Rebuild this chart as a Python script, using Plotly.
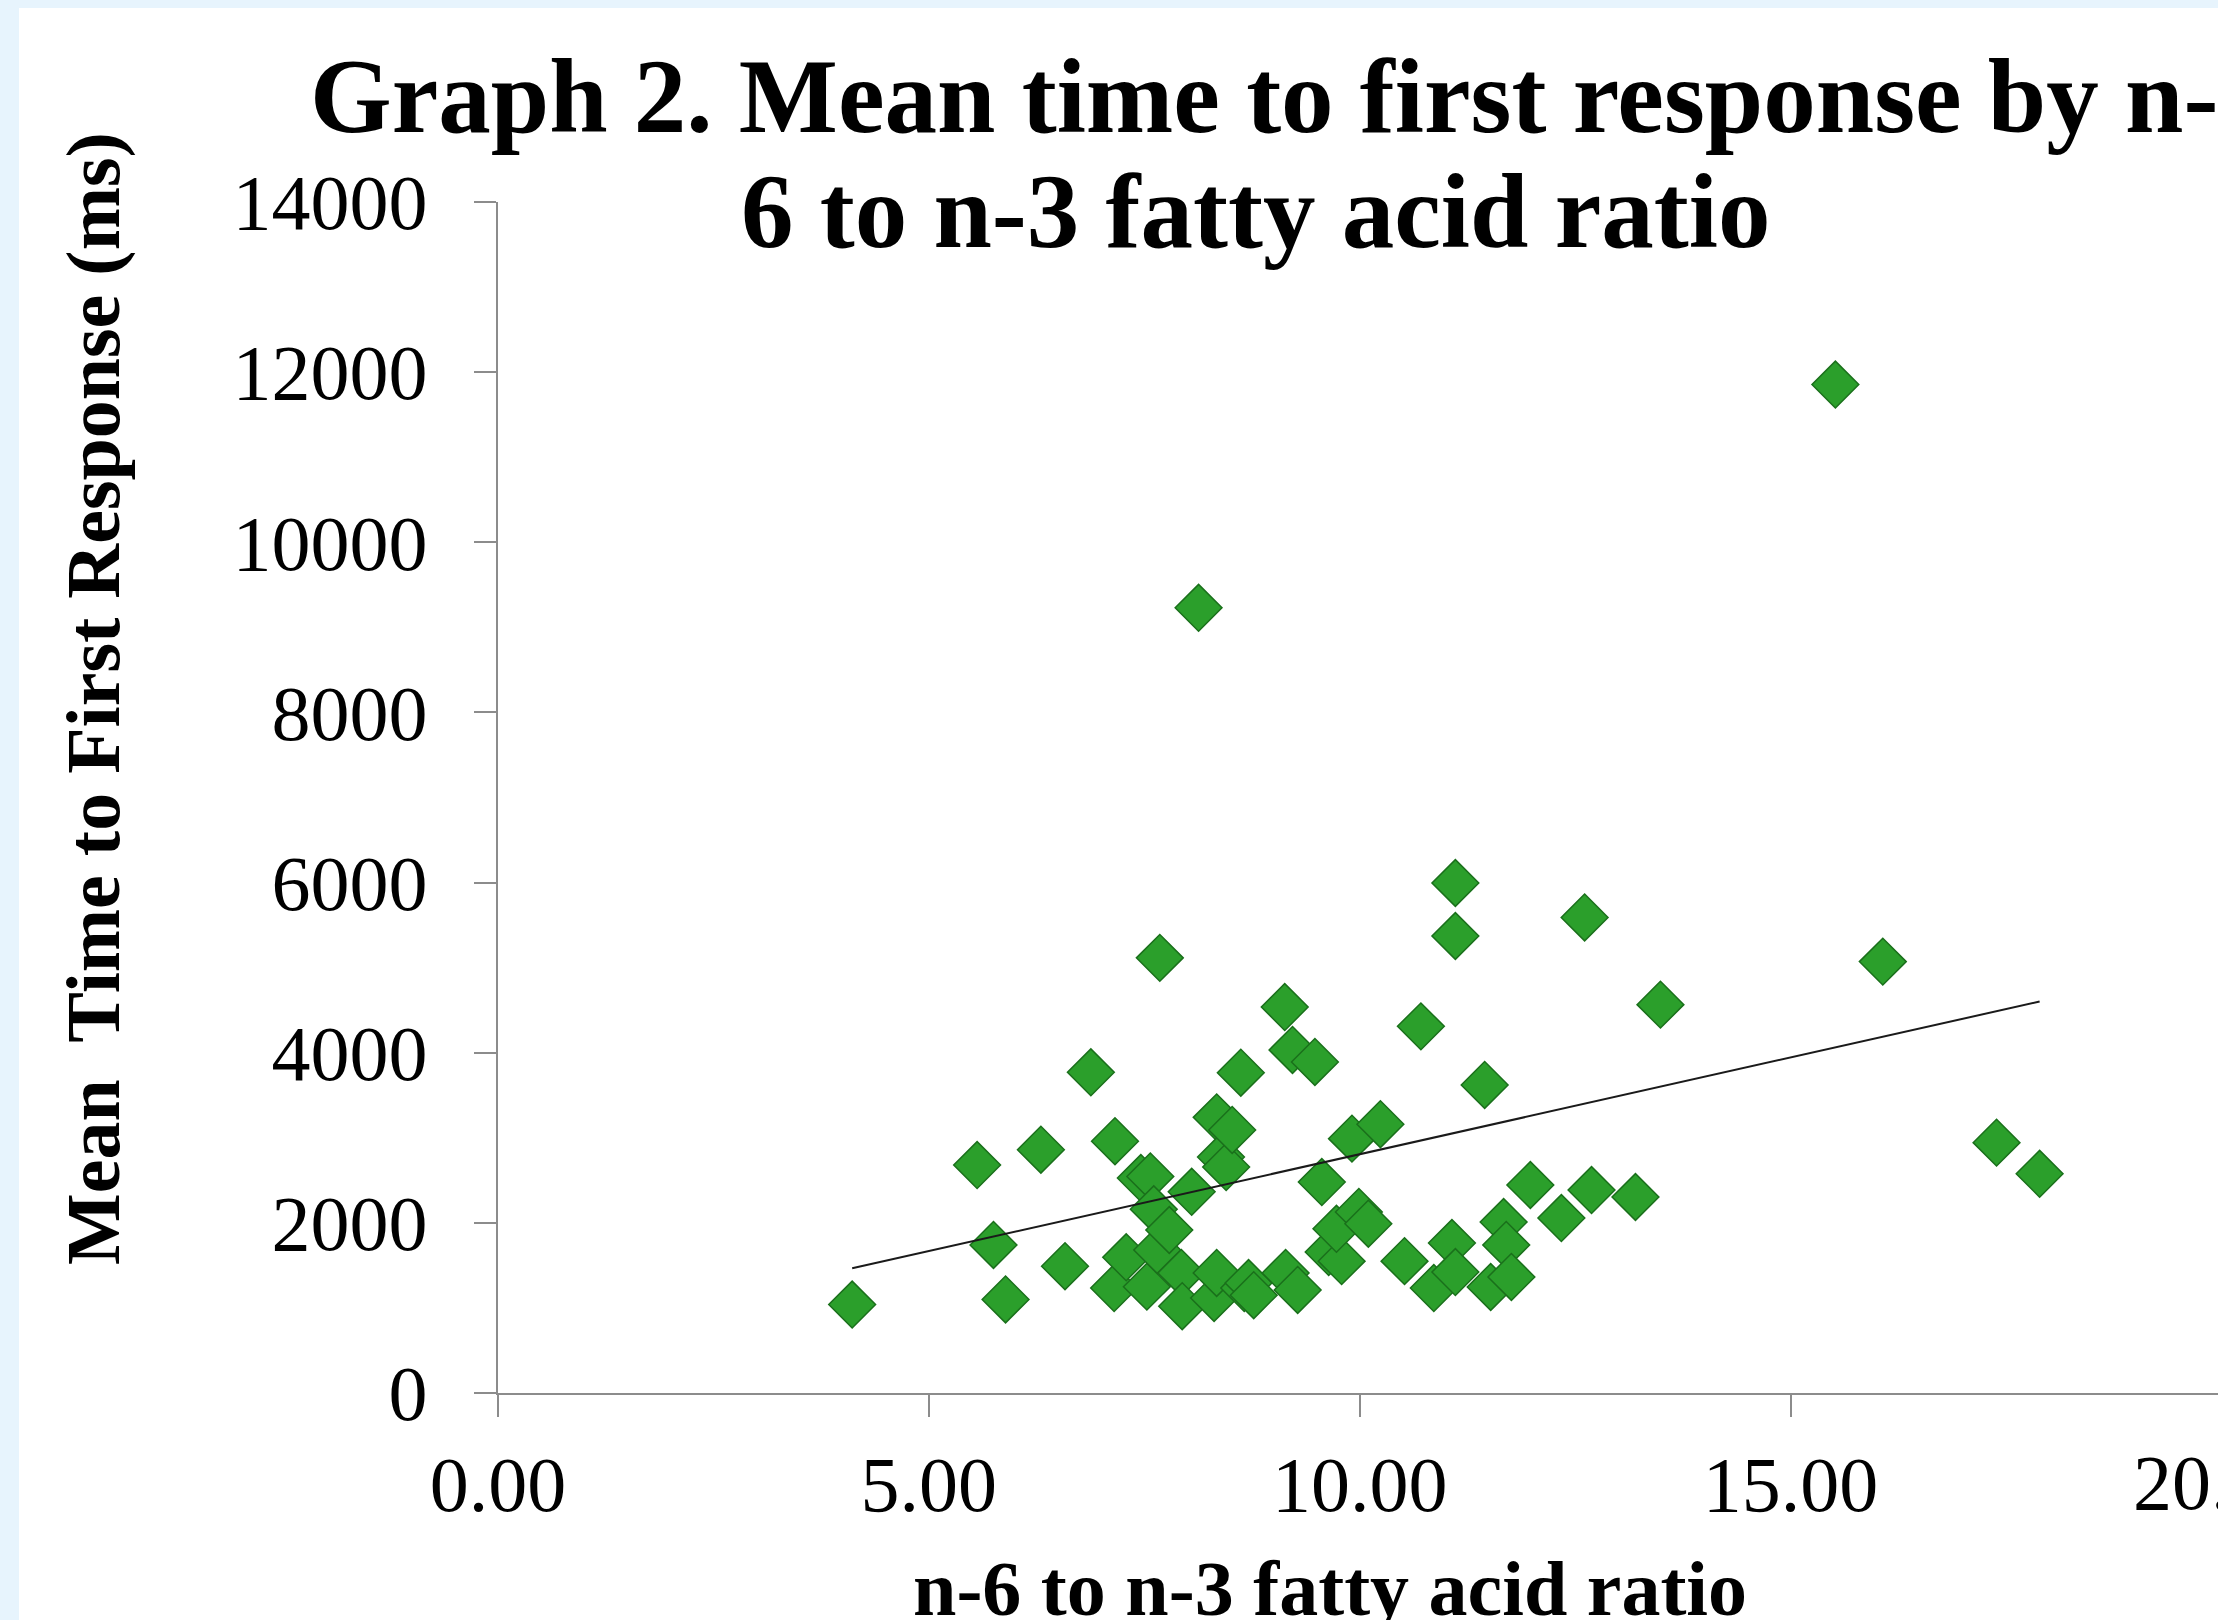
import numpy as np
import plotly.graph_objects as go

# n-6 to n-3 fatty acid ratio
ratio = [4.11, 5.56, 5.75, 5.89, 6.30, 6.58, 6.88, 7.16, 7.15, 7.29,
         7.46, 7.57, 7.53, 7.61, 7.65, 7.68, 7.79, 7.93, 7.94, 8.05,
         8.13, 8.31, 8.34, 8.34, 8.39, 8.45, 8.52, 8.62, 8.66, 8.71,
         8.77, 9.13, 9.14, 9.28, 9.22, 9.48, 9.56, 9.64, 9.79, 9.73,
         9.91, 9.99, 10.10, 10.24, 10.52, 10.71, 10.86, 11.07, 11.11, 11.11,
         11.11, 11.45, 11.52, 11.67, 11.70, 11.76, 11.98, 12.34, 12.61, 12.69,
         13.20, 13.49, 15.52, 16.07, 17.39, 17.89]
# Mean time to first response (ms)
resp_ms = [1040, 2680, 1740, 1100, 2860, 1490, 3770, 2960, 1234, 1595,
           2527, 2545, 1250, 2160, 1681, 5115, 1916, 1411, 1020, 2365,
           9230, 1117, 1411, 3240, 2774, 2657, 3092, 3765, 1234, 1293,
           1150, 4537, 1411, 1211, 4032, 3891, 2480, 1657, 1550, 1930,
           2990, 2128, 1990, 3160, 1550, 4310, 1234, 1763, 1422, 5995,
           5372, 3621, 1246, 2010, 1740, 1364, 2445, 2057, 5590, 2386,
           2304, 4565, 11854, 5071, 2943, 2577]

x_ticks = [0, 5, 10, 15, 20]
y_ticks = [0, 2000, 4000, 6000, 8000, 10000, 12000, 14000]
X_MAX = 19.96
Y_MAX = 14000

title_l1 = "Graph 2. Mean time to first response by n-"
title_l2 = "6 to n-3 fatty acid ratio"
x_title = "n-6 to n-3 fatty acid ratio"
y_title = "Mean\u00a0 Time to First Response (ms)"

FONT = "Liberation Serif, Times New Roman, serif"
W, H = 2218, 1620
ML, MR, MT, MB = 498, 0, 202, 227
PW, PH = W - ML - MR, H - MT - MB
TICK_SIZE = 78


def px_x(p):
    return (p - ML) / PW


def px_y(p):
    return (H - MB - p) / PH


# linear trend (least squares)
xa = np.array(ratio)
ya = np.array(resp_ms)
slope, icpt = np.polyfit(xa, ya, 1)
tx = np.array([xa.min(), xa.max()])
ty = slope * tx + icpt

fig = go.Figure()
fig.add_trace(go.Scatter(
    x=ratio, y=resp_ms, mode="markers",
    marker=dict(symbol="diamond", size=36, color="#2b9f2b",
                line=dict(color="#1a701b", width=1.5)),
    showlegend=False, hoverinfo="x+y"))
fig.add_trace(go.Scatter(
    x=tx, y=ty, mode="lines", line=dict(color="#1a1a1a", width=2),
    showlegend=False, hoverinfo="skip"))

axis_common = dict(
    showgrid=False, zeroline=False, showline=True, linecolor="#8c8c8c",
    linewidth=2, ticks="outside", ticklen=22, tickwidth=2, tickcolor="#8c8c8c",
    tickfont=dict(family=FONT, size=TICK_SIZE, color="black"),
)

fig.update_xaxes(range=[0, X_MAX], tickvals=x_ticks,
                 ticktext=[f"{v:.2f}" for v in x_ticks],
                 ticklabelstandoff=0, **axis_common)
fig.update_yaxes(range=[0, Y_MAX], tickvals=y_ticks,
                 ticktext=[str(v) for v in y_ticks],
                 ticklabelstandoff=31, **axis_common)

annotations = [
    dict(text=title_l1, x=px_x(1264), y=px_y(97), xref="paper", yref="paper",
         xanchor="center", yanchor="middle", showarrow=False,
         font=dict(family=FONT, size=105, color="black", weight="bold")),
    dict(text=title_l2, x=px_x(1255), y=px_y(211), xref="paper", yref="paper",
         xanchor="center", yanchor="middle", showarrow=False,
         font=dict(family=FONT, size=105, color="black", weight="bold")),
    dict(text=x_title, x=px_x(1330), y=px_y(1588), xref="paper", yref="paper",
         xanchor="center", yanchor="middle", showarrow=False,
         font=dict(family=FONT, size=78, color="black", weight="bold")),
    dict(text=y_title, x=px_x(93), y=px_y(699), xref="paper", yref="paper",
         xanchor="center", yanchor="middle", showarrow=False, textangle=-90,
         font=dict(family=FONT, size=76, color="black", weight="bold")),
    # the 20.00 tick label falls at the right edge of the picture
    dict(text=f"{x_ticks[-1]:.2f}", x=x_ticks[-1] / X_MAX, y=px_y(1482),
         xref="paper", yref="paper", xanchor="center", yanchor="middle",
         showarrow=False,
         font=dict(family=FONT, size=TICK_SIZE, color="black")),
]

fig.update_layout(
    width=W, height=H,
    margin=dict(l=ML, r=MR, t=MT, b=MB, pad=0),
    paper_bgcolor="#e7f4fd", plot_bgcolor="white",
    annotations=annotations,
    shapes=[dict(type="rect", xref="paper", yref="paper",
                 x0=px_x(19), x1=1.2, y0=-0.5, y1=px_y(8),
                 fillcolor="white", line=dict(width=0), layer="below")],
)

fig.write_html(
    "out.html",
    config={"displayModeBar": False},
    post_script="document.body.style.margin='0';"
                "document.body.style.overflow='hidden';",
)
